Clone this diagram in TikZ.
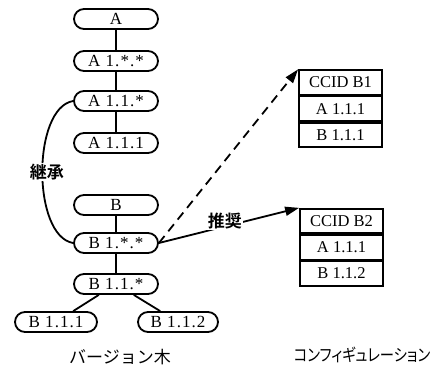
\documentclass[tikz,border=0pt]{standalone}
\usepackage{fontspec}
\usepackage{graphicx}
\setmainfont{Liberation Serif}
\newfontfamily\jp{Noto Sans CJK JP}
\newfontfamily\jpp[RawFeature=+palt]{Noto Sans CJK JP}
\newfontfamily\jpb{Noto Sans CJK JP Bold}
\newfontfamily\spaced[LetterSpace=6]{Liberation Serif}
\usetikzlibrary{arrows.meta}
\begin{document}
\begin{tikzpicture}[x=1pt,y=-1pt,
  ver/.style={draw,line width=1.8pt,rounded corners=10pt,minimum width=84pt,minimum height=20pt,inner sep=0pt,font=\spaced\fontsize{17}{17}\selectfont},
  cell/.style={draw,line width=1.8pt,minimum width=83pt,minimum height=24.5pt,inner sep=0pt,font=\fontsize{16.5}{17}\selectfont},
  edge/.style={line width=1.8pt},
  tip/.style={-{Triangle[length=14pt,width=9pt]}},
  lab/.style={fill=white,inner sep=1pt,font=\jpb\fontsize{17}{17}\selectfont},
  captext/.style={font=\jp\fontsize{17}{17}\selectfont}]
\path[use as bounding box,fill=white] (0,0) rectangle (434,370);
\node[ver] (a) at (116,19) {A};
\node[ver] (a1) at (116,61) {A 1.*.*};
\node[ver] (a11) at (116,101) {A 1.1.*};
\node[ver] (a111) at (116,143) {A 1.1.1};
\node[ver] (b) at (116,205) {B};
\node[ver] (b1) at (116,243) {B 1.*.*};
\node[ver] (b11) at (116,284) {B 1.1.*};
\node[ver,minimum width=82pt] (b111) at (56,322) {B 1.1.1};
\node[ver,minimum width=80pt] (b112) at (178,322) {B 1.1.2};
\draw[edge] (a) -- (a1);
\draw[edge] (a1) -- (a11);
\draw[edge] (a11) -- (a111);
\draw[edge] (b) -- (b1);
\draw[edge] (b1) -- (b11);
\draw[edge] (b11) -- (b111);
\draw[edge] (b11) -- (b112);
\draw[edge] (a11.west) .. controls (32,108) and (32,236) .. (b1.west);
\node[lab] (inh) at (47,172) {継承};
\node[cell] (c1a) at (340.5,82.5) {CCID B1};
\node[cell,anchor=north] (c1b) at (c1a.south) {A 1.1.1};
\node[cell,anchor=north] (c1c) at (c1b.south) {B 1.1.1};
\node[cell] (c2a) at (341.5,221) {CCID B2};
\node[cell,anchor=north] (c2b) at (c2a.south) {A 1.1.1};
\node[cell,anchor=north] (c2c) at (c2b.south) {B 1.1.2};
\draw[edge,tip,dash pattern=on 9pt off 6pt] (b1.east) -- (c1a.north west);
\draw[edge,tip] (b1.east) -- node[lab,pos=0.47,yshift=5pt] (rec) {推奨} (c2a.north west);
\node[captext] (cap1) at (120,357) {バージョン木};
\node[captext] (cap2) at (362,355) {\scalebox{0.84}[1]{\jpp\fontsize{17}{17}\selectfont コンフィギュレーション}};
\end{tikzpicture}
\end{document}
